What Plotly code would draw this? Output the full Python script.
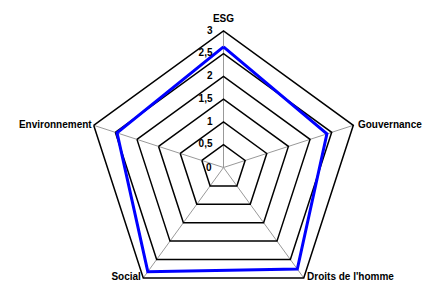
import plotly.graph_objects as go

categories = ["ESG", "Gouvernance", "Droits de l'homme", "Social", "Environnement"]
values = [2.65, 2.39, 2.76, 2.83, 2.46]
tick_vals = [0, 0.5, 1, 1.5, 2, 2.5, 3]
tick_text = ["0", "0,5", "1", "1,5", "2", "2,5", "3"]

# label styling (text placement around the outer ring)
label_positions = ["top center", "middle right", "middle right", "middle left", "middle left"]
label_offsets = [8.8, 5.8, 3.8, 2.2, 1.6]

theta = categories + [categories[0]]
r = values + [values[0]]
r_min = tick_vals[0]
r_max = tick_vals[-1]

font = dict(family="Liberation Sans, Arial, sans-serif", size=10, color="black", weight="bold")
invisible = "rgba(0,0,0,0)"

fig = go.Figure()
fig.add_trace(go.Scatterpolar(
    r=r, theta=theta, mode="lines",
    line=dict(color="#0000ff", width=3),
    showlegend=False, hoverinfo="skip",
))

# category labels at the outer ring, positioned via the polar scales
fig.add_trace(go.Scatterpolar(
    r=[r_max] * len(categories), theta=categories, mode="markers+text",
    marker=dict(size=label_offsets, color=invisible, line=dict(width=0)),
    text=categories, textposition=label_positions, textfont=font,
    cliponaxis=False, showlegend=False, hoverinfo="skip",
))

# radial tick labels to the left of the ESG spoke
fig.add_trace(go.Scatterpolar(
    r=tick_vals[1:], theta=[categories[0]] * len(tick_vals[1:]), mode="markers+text",
    marker=dict(size=16, color=invisible, line=dict(width=0)),
    text=tick_text[1:], textposition="middle left", textfont=font,
    cliponaxis=False, showlegend=False, hoverinfo="skip",
))

# the "0" label sits at the polar centre (centre of the square domain)
fig.add_annotation(
    text=tick_text[0], xref="paper", yref="paper", x=0.5, y=0.5,
    xanchor="right", yanchor="middle", xshift=-10, showarrow=False, font=font,
)

fig.update_layout(
    width=425, height=308,
    margin=dict(l=87, r=65, t=31, b=4),
    paper_bgcolor="white",
    showlegend=False,
    polar=dict(
        bgcolor="white",
        gridshape="linear",
        domain=dict(x=[0, 1], y=[0, 1]),
        radialaxis=dict(
            range=[r_min, r_max], tickvals=tick_vals,
            angle=90, showticklabels=False,
            showline=False, ticks="", gridcolor="black", gridwidth=1.5,
        ),
        angularaxis=dict(
            direction="clockwise", rotation=90,
            showline=True, linecolor="black", linewidth=1.5,
            gridcolor="#999999", gridwidth=1, ticks="",
            showticklabels=False,
            categoryorder="array", categoryarray=categories,
        ),
    ),
)

fig.write_html(
    "out.html",
    config={"displayModeBar": False, "staticPlot": True},
    post_script="document.body.style.margin='0';document.documentElement.style.overflow='hidden';",
)
